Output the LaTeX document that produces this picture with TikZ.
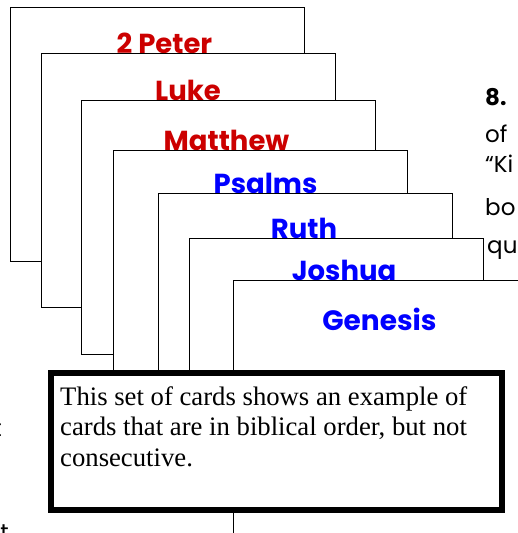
\documentclass[tikz,border=0pt]{standalone}
\usepackage{fontspec}
\setmainfont{Liberation Serif}
\newfontfamily\cardfont{Poppins}
\definecolor{cardred}{HTML}{CC0000}
\definecolor{cardblue}{HTML}{0000FF}
\tikzset{
    card/.style={draw=black, line width=1.3pt, fill=white, anchor=north west,
        minimum width=294pt, minimum height=254pt, inner sep=0pt},
    cardlabel/.style={anchor=base, inner sep=0pt,
        font=\cardfont\bfseries\fontsize{27.5}{32}\selectfont},
    sidetext/.style={anchor=base west, inner sep=0pt,
        font=\cardfont\fontsize{23}{27}\selectfont},
}
\begin{document}
\begin{tikzpicture}[x=1pt, y=-1pt]
        \useasboundingbox (0,0) rectangle (517,533);

        % text of the page behind the cards
        \node[sidetext, font=\cardfont\bfseries\fontsize{23}{27}\selectfont] (side8) at (485,105) {8.};
        \node[sidetext] (sideof) at (485,142) {of};
        \node[sidetext] (sideki) at (485,172) {“Ki};
        \node[sidetext] (sidebo) at (485,215) {bo};
        \node[sidetext] (sidequ) at (487,253) {qu};
        \node[sidetext, anchor=base east] (leftt) at (2,436) {t};
        \node[sidetext, anchor=base east] (leftu) at (9,540) {t};

        % the cards, back to front
        \node[card] (card1) at (10,7) {};
        \node[cardlabel, text=cardred] (peter) at (164.5,53) {2 Peter};
        \node[card] (card2) at (41,53) {};
        \node[cardlabel, text=cardred] (luke) at (188,100) {Luke};
        \node[card] (card3) at (81,100) {};
        \node[cardlabel, text=cardred] (matthew) at (226.5,150) {Matthew};
        \node[card] (card4) at (113,150) {};
        \node[cardlabel, text=cardblue] (psalms) at (265.5,193) {Psalms};
        \node[card] (card5) at (158,193) {};
        \node[cardlabel, text=cardblue] (ruth) at (304,238) {Ruth};
        \node[card] (card6) at (189,238) {};
        \node[cardlabel, text=cardblue] (joshua) at (344,280) {Joshua};
        \node[card] (card7) at (233,280) {};
        \node[cardlabel, text=cardblue, font=\cardfont\bfseries\fontsize{28}{33}\selectfont] (genesis) at (379.5,330) {Genesis};

        % the note over the cards
        \node[draw=black, line width=6pt, fill=white, anchor=north west, inner sep=0pt,
            minimum width=451pt, minimum height=137pt] (notebox) at (48,370) {};
        \node[anchor=base west, align=left, inner sep=0pt,
            font=\fontsize{26.7}{30.5}\selectfont] (notetext) at (60,466)
            {This set of cards shows an example of\\cards that are in biblical order, but not\\consecutive.};
    \end{tikzpicture}
\end{document}
